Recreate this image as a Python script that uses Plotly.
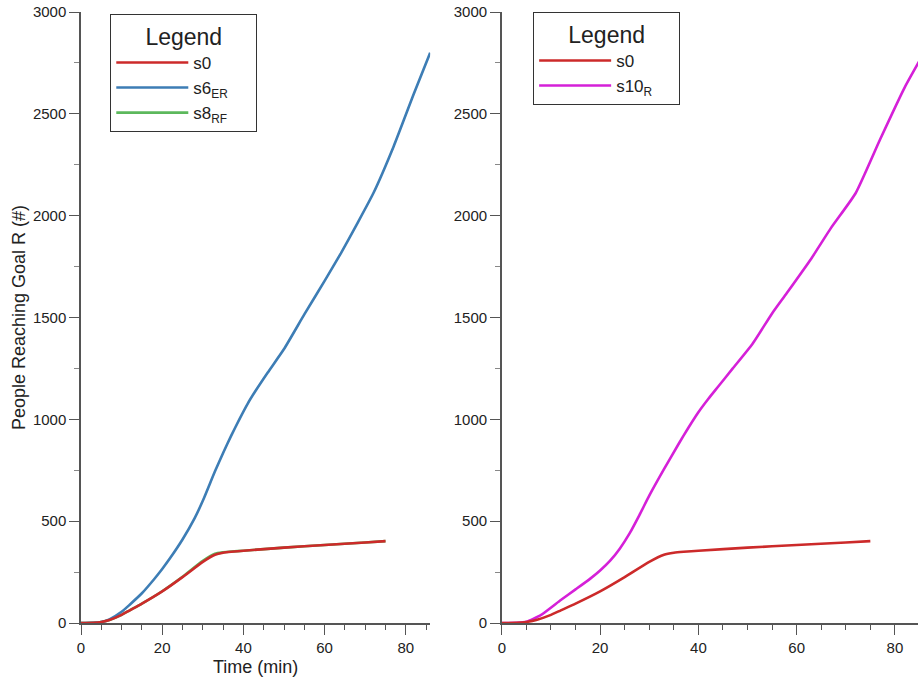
import plotly.graph_objects as go

# s0 (baseline) – shown in both panels
s0_t = [0, 3, 5, 7, 10, 12, 15, 20, 25, 30, 33, 35, 37, 40, 50, 60, 70, 75]
s0_v = [0, 1, 5, 15, 40, 62, 95, 155, 225, 300, 335, 345, 350, 355, 370, 383, 395, 402]

# s8_RF – almost identical to s0
s8_t = [0, 3, 5, 7, 10, 12, 15, 20, 25, 30, 33, 35, 37, 40, 50, 60, 70, 75]
s8_v = [0, 1, 5, 15, 40, 62, 95, 156, 227, 305, 340, 347, 351, 355, 370, 383, 395, 402]

# s6_ER
s6_t = [0, 3, 5, 7, 10, 12, 15, 18, 20, 22, 25, 28, 30, 33, 35, 37, 39, 41, 43, 46, 50, 55, 60, 64,
        68, 72, 77, 82, 86]
s6_v = [0, 1, 5, 18, 55, 90, 146, 215, 265, 320, 410, 515, 600, 745, 835, 920, 1000, 1075, 1140,
        1230, 1345, 1515, 1680, 1815, 1960, 2110, 2340, 2600, 2800]

# s10_R
s10_t = [0, 3, 5, 8, 12, 15, 18, 20, 22, 24, 26, 28, 30, 33, 36, 38, 40, 42, 44, 47, 51, 55, 58, 63,
         67, 72, 77, 82, 85]
s10_v = [0, 1, 6, 40, 113, 165, 218, 258, 305, 365, 440, 530, 625, 755, 880, 960, 1035, 1100, 1160,
         1250, 1370, 1520, 1620, 1790, 1940, 2110, 2375, 2630, 2760]

x_ticks = [0, 20, 40, 60, 80]
y_ticks = [0, 500, 1000, 1500, 2000, 2500, 3000]

RED = "#cc2a2a"
BLUE = "#3d7db5"
GREEN = "#5cb85c"
MAGENTA = "#d520d8"
LW = 2.6
FONT = "Liberation Sans, Arial, sans-serif"
SM = 0.5

fig = go.Figure()

# left panel (draw green first, red on top)
fig.add_trace(go.Scatter(x=s8_t, y=s8_v, mode="lines", name="s8<sub>RF</sub>",
                         line=dict(color=GREEN, width=LW, shape="spline", smoothing=SM),
                         xaxis="x", yaxis="y", legend="legend"))
fig.add_trace(go.Scatter(x=s6_t, y=s6_v, mode="lines", name="s6<sub>ER</sub>",
                         line=dict(color=BLUE, width=LW, shape="spline", smoothing=SM),
                         xaxis="x", yaxis="y", legend="legend"))
fig.add_trace(go.Scatter(x=s0_t, y=s0_v, mode="lines", name="s0",
                         line=dict(color=RED, width=LW, shape="spline", smoothing=SM),
                         xaxis="x", yaxis="y", legend="legend"))

# right panel
fig.add_trace(go.Scatter(x=s10_t, y=s10_v, mode="lines", name="s10<sub>R</sub>",
                         line=dict(color=MAGENTA, width=LW, shape="spline", smoothing=SM),
                         xaxis="x2", yaxis="y2", legend="legend2"))
fig.add_trace(go.Scatter(x=s0_t, y=s0_v, mode="lines", name="s0",
                         line=dict(color=RED, width=LW, shape="spline", smoothing=SM),
                         xaxis="x2", yaxis="y2", legend="legend2"))

axis_common = dict(
    showline=True, linecolor="#555555", linewidth=1.5,
    ticks="outside", ticklen=10, tickwidth=1.3, tickcolor="#555555",
    showgrid=False, zeroline=False, automargin=False,
    tickfont=dict(family=FONT, size=15, color="#222222"),
)

W, H = 923, 683
ml = 80.7
mt = 12
mb = H - 623
mr = W - 918
pw = W - ml - mr
ph = H - mt - mb
left_end = (430 - ml) / pw
right_start = (501.7 - ml) / pw

PAD = "&nbsp;" * 5
legend_common = dict(
    xanchor="left", yanchor="top",
    bgcolor="white", bordercolor="#333333", borderwidth=1,
    traceorder="reversed", itemwidth=72, tracegroupgap=0,
    font=dict(size=17, family=FONT),
    title=dict(text=PAD + "Legend" + PAD, side="top center", font=dict(size=23, family=FONT)),
)

fig.update_layout(
    width=W, height=H,
    margin=dict(l=ml, r=mr, t=mt, b=mb, autoexpand=False),
    paper_bgcolor="white", plot_bgcolor="white",
    font=dict(family=FONT, color="#222222"),
    xaxis=dict(domain=[0, left_end], range=[0, 86], tickvals=x_ticks,
               minor=dict(dtick=5, tick0=0, ticks="outside", ticklen=5, tickcolor="#555555"),
               title=dict(text="Time (min)", font=dict(size=18, family=FONT), standoff=6),
               anchor="y", **axis_common),
    yaxis=dict(domain=[0, 1], range=[0, 3000], tickvals=y_ticks,
               minor=dict(dtick=250, tick0=0, ticks="outside", ticklen=5, tickcolor="#888888"),
               title=dict(text="People Reaching Goal R (#)", font=dict(size=18, family=FONT), standoff=3),
               anchor="x", **axis_common),
    xaxis2=dict(domain=[right_start, 1], range=[0, 84.7], tickvals=x_ticks,
                minor=dict(dtick=5, tick0=0, ticks="outside", ticklen=5, tickcolor="#555555"),
                anchor="y2", **axis_common),
    yaxis2=dict(domain=[0, 1], range=[0, 3000], tickvals=y_ticks,
                minor=dict(dtick=250, tick0=0, ticks="outside", ticklen=5, tickcolor="#888888"),
                anchor="x2", **axis_common),
    legend=dict(x=(110 - ml) / pw, y=(623 - 14) / ph, **legend_common),
    legend2=dict(x=(533 - ml) / pw, y=(623 - 12) / ph, **legend_common),
    showlegend=True,
)

# remove the default 8px page margin so the figure sits at the window's top-left corner
fig.write_html("out.html", config={"displayModeBar": False},
               post_script="document.body.style.margin='0';document.body.style.padding='0';")
